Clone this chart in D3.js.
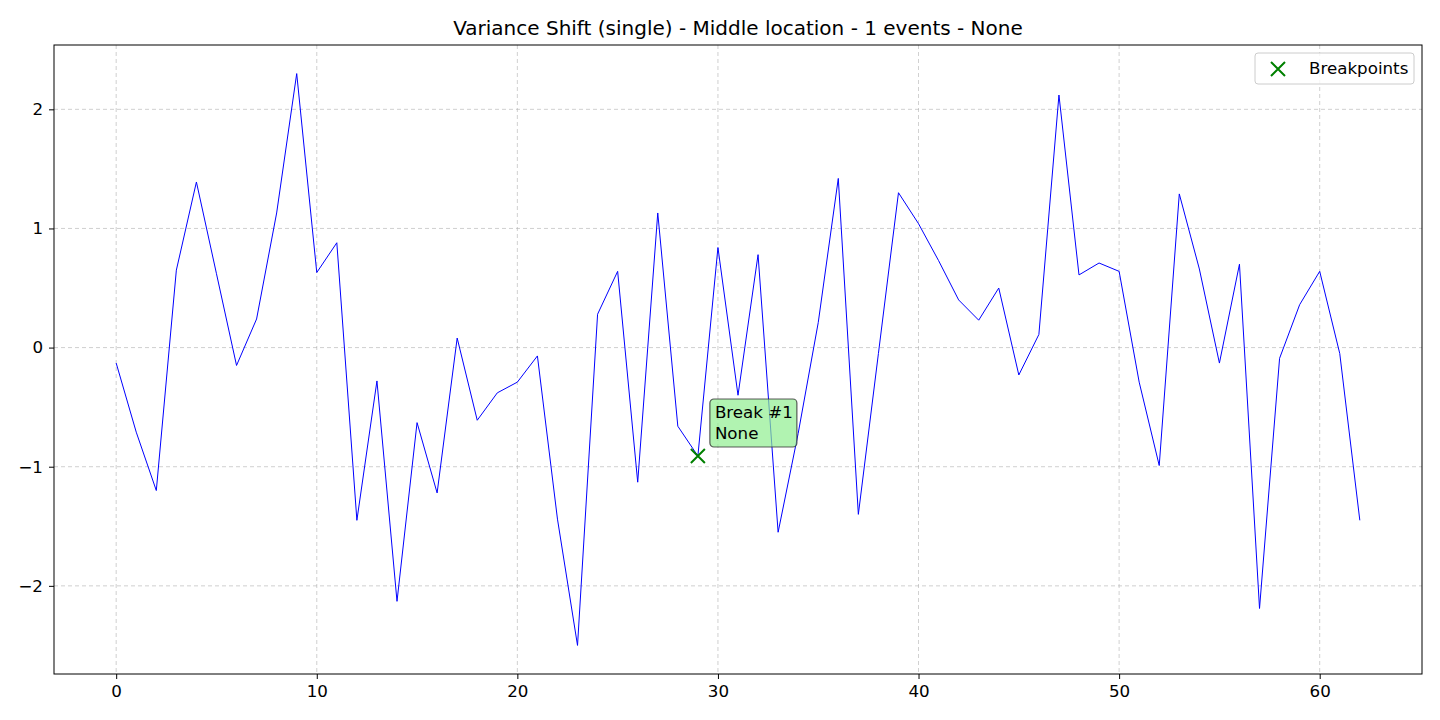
<!DOCTYPE html>
<html>
<head>
<meta charset="utf-8">
<script src="https://cdn.jsdelivr.net/npm/d3@7"></script>
<style>
  body { margin: 0; background: #fff; }
  text { font-family: "DejaVu Sans", sans-serif; }
</style>
</head>
<body>
<svg id="chart" width="1440" height="720"></svg>
<script>
// series values, index 0..62
const values = [
  -0.13, -0.71, -1.20, 0.65, 1.39, 0.62, -0.15, 0.24, 1.13, 2.30,
  0.63, 0.88, -1.45, -0.28, -2.13, -0.63, -1.22, 0.08, -0.61, -0.38,
  -0.29, -0.07, -1.44, -2.50, 0.28, 0.64, -1.13, 1.13, -0.66, -0.91,
  0.84, -0.40, 0.78, -1.55, -0.72, 0.21, 1.42, -1.40, -0.05, 1.30,
  1.04, 0.73, 0.40, 0.23, 0.50, -0.23, 0.11, 2.12, 0.61, 0.71,
  0.64, -0.29, -0.99, 1.29, 0.66, -0.13, 0.70, -2.19, -0.09, 0.36,
  0.64, -0.05, -1.45
];
const breakpoints = [29];
const breakLabels = [["Break #1", "None"]];
const xTicks = [0, 10, 20, 30, 40, 50, 60];
const yTicks = [-2, -1, 0, 1, 2];

const margin = { top: 45, right: 18, bottom: 46, left: 54 };
const width = 1440, height = 720;
const svg = d3.select('#chart');

const x = d3.scaleLinear().domain([-3.1, 65.1]).range([margin.left, width - margin.right]);
const y = d3.scaleLinear().domain([-2.74, 2.54]).range([height - margin.bottom, margin.top]);

// grid
const grid = svg.append('g').attr('stroke', '#b0b0b0').attr('stroke-opacity', 0.6)
  .attr('stroke-dasharray', '4,3');
grid.selectAll('.gx').data(xTicks).join('line')
  .attr('x1', d => x(d)).attr('x2', d => x(d))
  .attr('y1', margin.top).attr('y2', height - margin.bottom);
grid.selectAll('.gy').data(yTicks).join('line')
  .attr('y1', d => y(d)).attr('y2', d => y(d))
  .attr('x1', margin.left).attr('x2', width - margin.right);

// line
const line = d3.line().x((d, i) => x(i)).y(d => y(d));
svg.append('path').datum(values).attr('d', line)
  .attr('fill', 'none').attr('stroke', 'blue').attr('stroke-width', 1);

// breakpoints
breakpoints.forEach((b, k) => {
  const px = x(b), py = y(values[b]);
  svg.append('path').attr('d', `M${px-7},${py-7}L${px+7},${py+7}M${px-7},${py+7}L${px+7},${py-7}`)
    .attr('stroke', 'green').attr('stroke-width', 2);
  const g = svg.append('g').attr('transform', `translate(${px + 12},${py - 57})`);
  g.append('rect').attr('width', 87).attr('height', 48).attr('rx', 4)
    .attr('fill', 'rgb(144,238,144)').attr('fill-opacity', 0.7)
    .attr('stroke', '#333').attr('stroke-opacity', 0.8).attr('stroke-width', 1.2);
  breakLabels[k].forEach((t, j) => {
    g.append('text').attr('x', 5).attr('y', 19 + j * 21).attr('font-size', 16.7).text(t);
  });
});

// axes
const xAxis = svg.append('g').attr('transform', `translate(0,${height - margin.bottom})`)
  .call(d3.axisBottom(x).tickValues(xTicks).tickSize(5).tickPadding(6).tickSizeOuter(0));
const yAxis = svg.append('g').attr('transform', `translate(${margin.left},0)`)
  .call(d3.axisLeft(y).tickValues(yTicks).tickSize(5).tickPadding(6).tickSizeOuter(0)
    .tickFormat(d => d < 0 ? '\u2212' + Math.abs(d) : d));
[xAxis, yAxis].forEach(a => {
  a.selectAll('text').attr('font-size', 16.7).attr('fill', '#000').style('font-family', 'DejaVu Sans');
  a.selectAll('line').attr('stroke', '#000');
  a.select('.domain').remove();
});
svg.append('rect').attr('x', margin.left).attr('y', margin.top)
  .attr('width', width - margin.left - margin.right).attr('height', height - margin.top - margin.bottom)
  .attr('fill', 'none').attr('stroke', '#000').attr('stroke-width', 1);

// title
svg.append('text').attr('x', (margin.left + width - margin.right) / 2).attr('y', 35)
  .attr('text-anchor', 'middle').attr('font-size', 20).text('Variance Shift (single) - Middle location - 1 events - None');

// legend
const lg = svg.append('g').attr('transform', 'translate(1255,53)');
lg.append('rect').attr('width', 159).attr('height', 31).attr('rx', 3)
  .attr('fill', '#fff').attr('fill-opacity', 0.8).attr('stroke', '#ccc');
lg.append('path').attr('d', 'M16,9L30,23M16,23L30,9').attr('stroke', 'green').attr('stroke-width', 2);
lg.append('text').attr('x', 54).attr('y', 21).attr('font-size', 16.7).text('Breakpoints');
</script>
</body>
</html>
